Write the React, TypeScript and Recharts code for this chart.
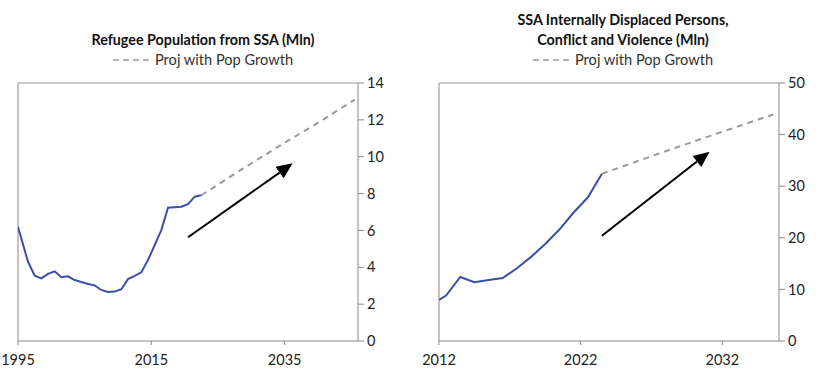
import { LineChart, Line, XAxis, YAxis, ReferenceLine } from "recharts";

// Refugee population from SSA (Mln)
const refugeeYears = [1995, 1996.5, 1997.5, 1998.5, 1999.5, 2000.5, 2001.5, 2002.5, 2003.5, 2004.5, 2005.5, 2006.5, 2007.5, 2008.5, 2009.5, 2010.5, 2011.5, 2012.5, 2013.5, 2014.5, 2015.5, 2016.5, 2017.5, 2018.5, 2019.5, 2020.5, 2021.5, 2022.5];
const refugeeValues = [6.2, 4.3, 3.54, 3.4, 3.64, 3.78, 3.46, 3.51, 3.31, 3.2, 3.09, 3.02, 2.77, 2.66, 2.68, 2.81, 3.36, 3.53, 3.73, 4.4, 5.2, 6.02, 7.23, 7.26, 7.29, 7.43, 7.83, 7.91];
const refugeeProjYears = [2022.5, 2028.5, 2034.5, 2040.5, 2045.5];
const refugeeProjValues = [7.91, 9.3, 10.65, 11.95, 13.1];

// SSA internally displaced persons, conflict and violence (Mln)
const idpYears = [2012, 2012.5, 2013.5, 2014.5, 2015.5, 2016.5, 2017.5, 2018.5, 2019.5, 2020.5, 2021.5, 2022.5, 2023.5];
const idpValues = [7.95, 8.8, 12.4, 11.4, 11.8, 12.2, 14.1, 16.3, 18.8, 21.6, 24.9, 27.8, 32.4];
const idpProjYears = [2023.5, 2027.5, 2031.5, 2035.6];
const idpProjValues = [32.4, 36.3, 40.1, 43.9];

const leftXTicks = [1995, 2015, 2035];
const leftYTicks = [0, 2, 4, 6, 8, 10, 12, 14];
const rightXTicks = [2012, 2022, 2032];
const rightYTicks = [0, 10, 20, 30, 40, 50];

const leftArrow = [{ x: 2020.5, y: 5.63 }, { x: 2036.2, y: 9.64 }];
const rightArrow = [{ x: 2023.5, y: 20.4 }, { x: 2031.1, y: 36.7 }];

const toRows = (xs: number[], ys: number[]) => xs.map((x, i) => ({ x, y: ys[i] }));

const FONT = "Lato, 'DejaVu Sans', sans-serif";
const BLUE = "#3b4fa6";
const DASH = "#9a9a9a";
const AXIS = "#8a8a8a";

function Arrow(props: any) {
  const { x1, y1, x2, y2 } = props;
  const ang = Math.atan2(y2 - y1, x2 - x1);
  const len = 16;
  const half = 7;
  const bx = x2 - len * Math.cos(ang);
  const by = y2 - len * Math.sin(ang);
  const px = -Math.sin(ang) * half;
  const py = Math.cos(ang) * half;
  return (
    <g>
      <line x1={x1} y1={y1} x2={bx} y2={by} stroke="#000" strokeWidth={2} />
      <polygon points={`${x2},${y2} ${bx + px},${by + py} ${bx - px},${by - py}`} fill="#000" />
    </g>
  );
}

interface PanelProps {
  left: number;
  titles: string[];
  hist: { x: number; y: number }[];
  proj: { x: number; y: number }[];
  xDomain: [number, number];
  xTicks: number[];
  yTicks: number[];
  arrow: { x: number; y: number }[];
  marginLeft: number;
  marginRight: number;
}

function Panel({ left, titles, hist, proj, xDomain, xTicks, yTicks, arrow, marginLeft, marginRight }: PanelProps) {
  const yMax = yTicks[yTicks.length - 1];
  return (
    <div style={{ position: "absolute", left, top: 0, width: 420, height: 381, fontFamily: FONT }}>
      <div style={{ position: "absolute", left: 0, width: 406, bottom: 381 - 50, textAlign: "center", fontWeight: 700, fontSize: 14.3, lineHeight: "20px", color: "#111" }}>
        {titles.map((t) => (
          <div key={t}>{t}</div>
        ))}
      </div>
      <div style={{ position: "absolute", left: 0, width: 406, top: 51, display: "flex", justifyContent: "center", alignItems: "center", fontSize: 14.6, color: "#333", lineHeight: "18px" }}>
        <svg width={36} height={10} style={{ marginRight: 6 }}>
          <line x1={0} y1={5} x2={36} y2={5} stroke={DASH} strokeWidth={1.5} strokeDasharray="6 4" />
        </svg>
        <span>Proj with Pop Growth</span>
      </div>
      <LineChart width={420} height={381} margin={{ top: 83, right: marginRight, bottom: 10, left: marginLeft }}>
        <XAxis
          type="number"
          dataKey="x"
          domain={xDomain}
          ticks={xTicks}
          allowDataOverflow
          height={30}
          stroke={AXIS}
          tickSize={4}
          tickMargin={10}
          tick={{ fill: "#222", fontSize: 14.5, fontFamily: FONT }}
        />
        <YAxis
          orientation="right"
          type="number"
          domain={[0, yMax]}
          ticks={yTicks}
          width={50}
          stroke={AXIS}
          tickSize={6}
          tickMargin={3}
          tick={{ fill: "#222", fontSize: 14.5, fontFamily: FONT, textAnchor: "start" }}
        />
        <ReferenceLine y={yMax} stroke="#cccccc" strokeWidth={2} />
        <ReferenceLine x={xDomain[0]} stroke={AXIS} strokeWidth={1} />
        <Line data={proj} dataKey="y" stroke={DASH} strokeWidth={2} strokeDasharray="6 5" dot={false} isAnimationActive={false} />
        <Line data={hist} dataKey="y" stroke={BLUE} strokeWidth={2} dot={false} isAnimationActive={false} />
        <ReferenceLine segment={arrow} ifOverflow="visible" shape={(p: any) => <Arrow {...p} />} />
      </LineChart>
    </div>
  );
}

export default function App() {
  return (
    <div style={{ position: "absolute", left: 0, top: 0, width: 840, height: 381, background: "#fff" }}>
      <Panel
        left={0}
        titles={["Refugee Population from SSA (Mln)"]}
        hist={toRows(refugeeYears, refugeeValues)}
        proj={toRows(refugeeProjYears, refugeeProjValues)}
        xDomain={[1995, 2046]}
        xTicks={leftXTicks}
        yTicks={leftYTicks}
        arrow={leftArrow}
        marginLeft={18}
        marginRight={12}
      />
      <Panel
        left={420}
        titles={["SSA Internally Displaced Persons,", "Conflict and Violence (Mln)"]}
        hist={toRows(idpYears, idpValues)}
        proj={toRows(idpProjYears, idpProjValues)}
        xDomain={[2012, 2036]}
        xTicks={rightXTicks}
        yTicks={rightYTicks}
        arrow={rightArrow}
        marginLeft={19}
        marginRight={11}
      />
    </div>
  );
}
